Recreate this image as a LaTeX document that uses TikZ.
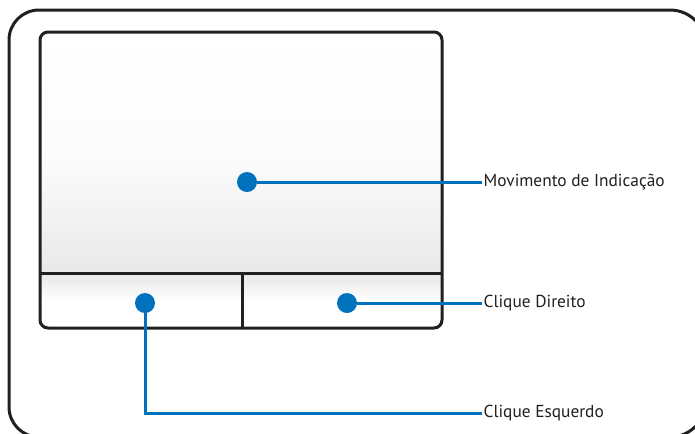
\documentclass[tikz,border=0pt]{standalone}
\usepackage{fontspec}
\setmainfont{PT Sans}
\usetikzlibrary{positioning}
\definecolor{ink}{HTML}{231F20}
\definecolor{callout}{HTML}{0071BC}
\definecolor{padgrey}{HTML}{E6E6E8}
\begin{document}
\begin{tikzpicture}[x=0.75pt,y=-0.75pt,
  frame/.style={draw=ink,line width=2.25pt},
  pad/.style={draw=ink,line width=2.25pt,rounded corners=6pt},
  dot/.style={circle,fill=callout,minimum size=15pt,inner sep=0},
  lead/.style={draw=callout,line width=2.25pt},
  lbl/.style={anchor=west,inner sep=1pt,font=\fontsize{13}{15}\selectfont,text=ink}]
\useasboundingbox (0,0) rectangle (695,433);
\clip (0,0) rectangle (695,433);
% outer casing, cut by the page
\draw[frame] (706,401) arc[start angle=0,end angle=90,radius=36] -- (39,437)
  arc[start angle=90,end angle=180,radius=30] -- (9,40)
  arc[start angle=180,end angle=270,radius=30] -- (670,10)
  arc[start angle=-90,end angle=0,radius=36];
% touch surface and buttons
\shade[rounded corners=6pt,top color=white,bottom color=padgrey,middle color=white!85!padgrey] (40,32) rectangle (442,290);
\shade[rounded corners=6pt,top color=padgrey,bottom color=white,middle color=white] (40,273) rectangle (442,328);
\draw[pad] (40,32) rectangle (442,328);
\draw[ink,line width=2.25pt] (40,273) -- (442,273);
\draw[ink,line width=2.25pt] (242,273) -- (242,328);
% callouts
\node[dot] (move) at (247,182) {};
\node[dot] (left) at (145,303) {};
\node[dot] (right) at (347,303) {};
\node[lbl] (tmove) at (482,182) {Movimento de Indicação};
\node[lbl] (tright) at (482,303) {Clique Direito};
\node[lbl] (tleft) at (482,413) {Clique Esquerdo};
\draw[lead] (move) -- (tmove.west);
\draw[lead] (right) -- (tright.west);
\draw[lead] (left) |- (tleft.west);
\end{tikzpicture}
\end{document}
